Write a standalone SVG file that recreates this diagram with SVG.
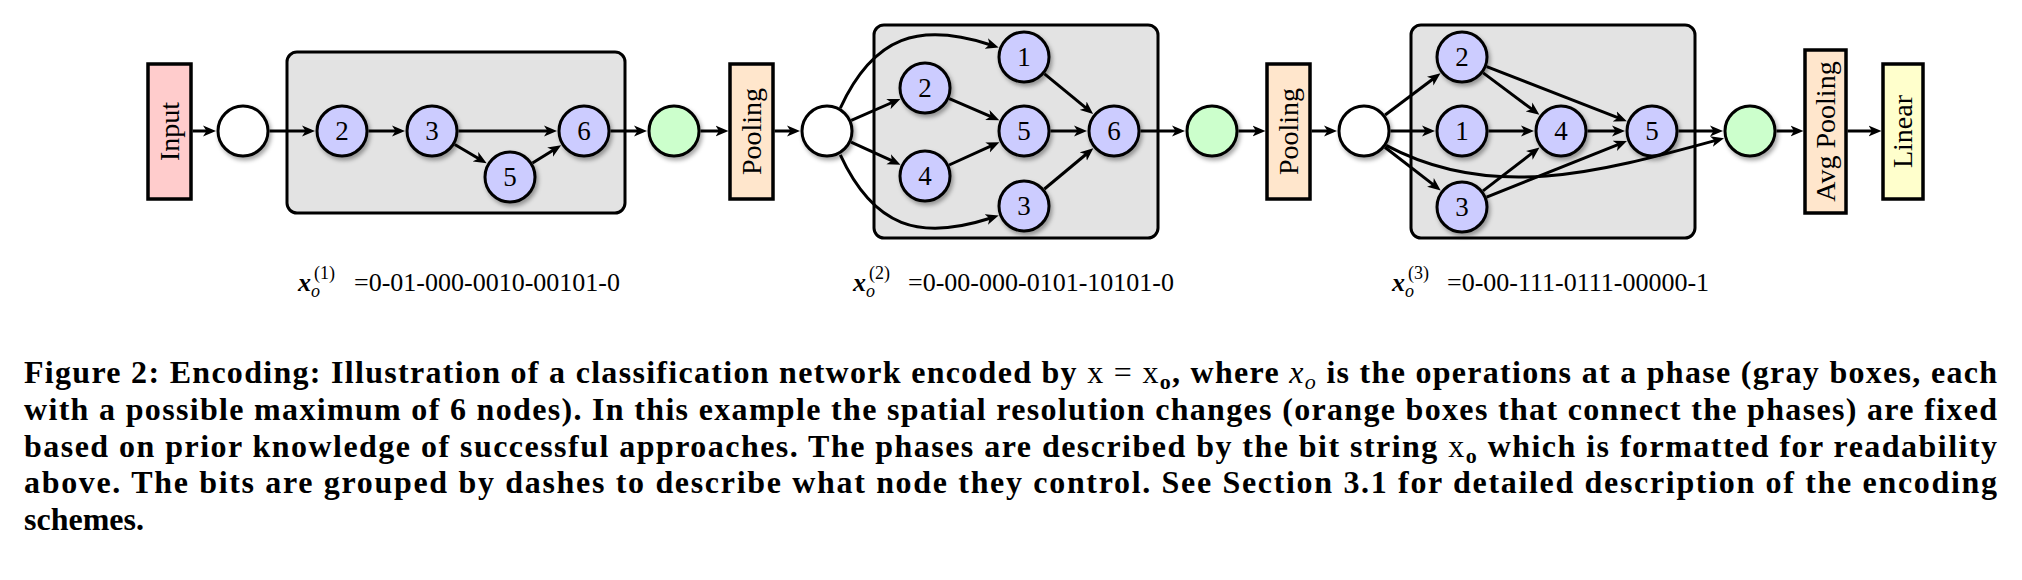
<svg xmlns="http://www.w3.org/2000/svg" width="2022" height="580" viewBox="0 0 2022 580">
<style>
.bg{fill:#ffffff}
.phase{fill:#e3e3e3;stroke:#000;stroke-width:3}
.box{stroke:#000;stroke-width:3.5}
.inp{fill:#ffcccc}
.pool{fill:#ffe6cc}
.lin{fill:#ffffcc}
.n{fill:#ccccff;stroke:#000;stroke-width:3;filter:url(#sh)}
.w{fill:#ffffff;stroke:#000;stroke-width:3;filter:url(#sh)}
.g{fill:#ccffcc;stroke:#000;stroke-width:3;filter:url(#sh)}
text{font-family:'Liberation Serif','Times New Roman',Times,serif}
.lbl{font-size:27px;fill:#000;text-anchor:middle}
.rl{font-size:28px;fill:#000;text-anchor:middle}
.e{fill:none;stroke:#000;stroke-width:3;marker-end:url(#arr)}
.f{font-size:26px;fill:#000}
.fs{font-size:18px;fill:#000}
.cap{font-size:32px;font-weight:bold;fill:#000}
</style>
<defs>
<marker id="arr" viewBox="0 -6 14 12" markerWidth="14" markerHeight="12" refX="4" refY="0" orient="auto" markerUnits="userSpaceOnUse">
<path d="M0,-5.5 L13,0 L0,5.5 L3.5,0 Z" fill="#000"/>
</marker>
<filter id="sh" x="-30%" y="-30%" width="170%" height="170%">
<feDropShadow dx="2" dy="3" stdDeviation="2" flood-color="#000" flood-opacity="0.35"/>
</filter>
</defs>
<rect class="bg" x="0" y="0" width="2022" height="580"/>

<g id="phase1"><rect class="phase" x="287" y="52" width="338" height="161" rx="10"/></g>
<g id="phase2"><rect class="phase" x="874" y="25" width="284" height="213" rx="10"/></g>
<g id="phase3"><rect class="phase" x="1411" y="25" width="284" height="213" rx="10"/></g>

<g id="connectors">
<line class="e" x1="192.5" y1="131" x2="207" y2="131"/>
<line class="e" x1="269.5" y1="131" x2="306" y2="131"/>
<line class="e" x1="368.5" y1="131" x2="396" y2="131"/>
<line class="e" x1="458.5" y1="131" x2="548" y2="131"/>
<line class="e" x1="454.8" y1="144.5" x2="478.9" y2="158.7"/>
<line class="e" x1="532.5" y1="163" x2="553.5" y2="150"/>
<line class="e" x1="610.5" y1="131" x2="638" y2="131"/>
<line class="e" x1="700.5" y1="131" x2="719.5" y2="131"/>
<line class="e" x1="774.5" y1="131" x2="791" y2="131"/>

<line class="e" x1="851.3" y1="120.3" x2="892.1" y2="102.5"/>
<line class="e" x1="851.1" y1="142.1" x2="892.3" y2="160.9"/>
<path class="e" d="M840.3,108.1 C873.9,35.6 919.6,22 990.1,44.7"/>
<path class="e" d="M840.3,154.9 C873.9,227.4 919.6,241 990.1,218.3"/>
<line class="e" x1="949.3" y1="98.6" x2="991" y2="116.6"/>
<line class="e" x1="949.1" y1="165" x2="991.2" y2="145.9"/>
<line class="e" x1="1044.5" y1="73.8" x2="1086.2" y2="108.2"/>
<line class="e" x1="1044.4" y1="189" x2="1086.4" y2="154"/>
<line class="e" x1="1050.5" y1="131" x2="1078" y2="131"/>
<line class="e" x1="1140.5" y1="131" x2="1176" y2="131"/>
<line class="e" x1="1238.5" y1="131" x2="1256.5" y2="131"/>
<line class="e" x1="1311.5" y1="131" x2="1328" y2="131"/>

<line class="e" x1="1385.1" y1="115" x2="1433.3" y2="78.7"/>
<line class="e" x1="1390.5" y1="131" x2="1426" y2="131"/>
<line class="e" x1="1384.9" y1="147.2" x2="1433.6" y2="184.9"/>
<path class="e" d="M1386.2,145.4 C1491.8,201.8 1599.5,172.1 1715.3,140.5"/>
<line class="e" x1="1483.2" y1="72.9" x2="1532.2" y2="109.4"/>
<line class="e" x1="1486.7" y1="66.6" x2="1618.4" y2="117.9"/>
<line class="e" x1="1488.5" y1="131" x2="1525" y2="131"/>
<line class="e" x1="1483" y1="190.9" x2="1532.4" y2="152.9"/>
<line class="e" x1="1486.6" y1="197.2" x2="1618.6" y2="144.4"/>
<line class="e" x1="1587.5" y1="131" x2="1616" y2="131"/>
<line class="e" x1="1678.5" y1="131" x2="1714" y2="131"/>
<line class="e" x1="1776.5" y1="131" x2="1794.5" y2="131"/>
<line class="e" x1="1847.5" y1="131" x2="1872.5" y2="131"/>
</g>

<g id="input"><rect class="box inp" x="148" y="64" width="43" height="135"/><text class="rl" transform="translate(169.5,131.5) rotate(-90)" dy="9">Input</text></g>
<g id="w1"><circle class="w" cx="243" cy="131" r="25"/></g>
<g id="p1n2"><circle class="n" cx="342" cy="131" r="25"/><text class="lbl" x="342" y="140">2</text></g>
<g id="p1n3"><circle class="n" cx="432" cy="131" r="25"/><text class="lbl" x="432" y="140">3</text></g>
<g id="p1n5"><circle class="n" cx="510" cy="177" r="25"/><text class="lbl" x="510" y="186">5</text></g>
<g id="p1n6"><circle class="n" cx="584" cy="131" r="25"/><text class="lbl" x="584" y="140">6</text></g>
<g id="g1"><circle class="g" cx="674" cy="131" r="25"/></g>
<g id="pool1"><rect class="box pool" x="730" y="64" width="43" height="135"/><text class="rl" transform="translate(751.5,131.5) rotate(-90)" dy="9">Pooling</text></g>

<g id="w2"><circle class="w" cx="827" cy="131" r="25"/></g>
<g id="p2n1"><circle class="n" cx="1024" cy="57" r="25"/><text class="lbl" x="1024" y="66">1</text></g>
<g id="p2n2"><circle class="n" cx="925" cy="88" r="25"/><text class="lbl" x="925" y="97">2</text></g>
<g id="p2n4"><circle class="n" cx="925" cy="176" r="25"/><text class="lbl" x="925" y="185">4</text></g>
<g id="p2n5"><circle class="n" cx="1024" cy="131" r="25"/><text class="lbl" x="1024" y="140">5</text></g>
<g id="p2n3"><circle class="n" cx="1024" cy="206" r="25"/><text class="lbl" x="1024" y="215">3</text></g>
<g id="p2n6"><circle class="n" cx="1114" cy="131" r="25"/><text class="lbl" x="1114" y="140">6</text></g>
<g id="g2"><circle class="g" cx="1212" cy="131" r="25"/></g>
<g id="pool2"><rect class="box pool" x="1267" y="64" width="43" height="135"/><text class="rl" transform="translate(1288.5,131.5) rotate(-90)" dy="9">Pooling</text></g>

<g id="w3"><circle class="w" cx="1364" cy="131" r="25"/></g>
<g id="p3n2"><circle class="n" cx="1462" cy="57" r="25"/><text class="lbl" x="1462" y="66">2</text></g>
<g id="p3n1"><circle class="n" cx="1462" cy="131" r="25"/><text class="lbl" x="1462" y="140">1</text></g>
<g id="p3n3"><circle class="n" cx="1462" cy="207" r="25"/><text class="lbl" x="1462" y="216">3</text></g>
<g id="p3n4"><circle class="n" cx="1561" cy="131" r="25"/><text class="lbl" x="1561" y="140">4</text></g>
<g id="p3n5"><circle class="n" cx="1652" cy="131" r="25"/><text class="lbl" x="1652" y="140">5</text></g>
<g id="g3"><circle class="g" cx="1750" cy="131" r="25"/></g>
<g id="avgpool"><rect class="box pool" x="1805" y="50" width="41" height="163"/><text class="rl" transform="translate(1825.5,131.5) rotate(-90)" dy="9">Avg Pooling</text></g>
<g id="linear"><rect class="box lin" x="1883" y="64" width="40" height="135"/><text class="rl" transform="translate(1903,131.5) rotate(-90)" dy="9">Linear</text></g>

<g id="enc1">
<text class="f" x="298" y="291" font-weight="bold" font-style="italic">x</text>
<text class="fs" x="311" y="297" font-style="italic">o</text>
<text class="fs" x="314" y="279">(1)</text>
<text class="f" x="354" y="291">=0-01-000-0010-00101-0</text>
</g>
<g id="enc2">
<text class="f" x="853" y="291" font-weight="bold" font-style="italic">x</text>
<text class="fs" x="866" y="297" font-style="italic">o</text>
<text class="fs" x="869" y="279">(2)</text>
<text class="f" x="908" y="291">=0-00-000-0101-10101-0</text>
</g>
<g id="enc3">
<text class="f" x="1392" y="291" font-weight="bold" font-style="italic">x</text>
<text class="fs" x="1405" y="297" font-style="italic">o</text>
<text class="fs" x="1408" y="279">(3)</text>
<text class="f" x="1447" y="291">=0-00-111-0111-00000-1</text>
</g>

<g id="caption">
<text class="cap" x="24" y="383" textLength="1973" lengthAdjust="spacing">Figure 2: Encoding: Illustration of a classification network encoded by <tspan font-weight="normal">x = x</tspan><tspan font-size="22" dy="6">o</tspan><tspan dy="-6">, where </tspan><tspan font-style="italic" font-weight="normal">x</tspan><tspan font-style="italic" font-weight="normal" font-size="22" dy="6">o</tspan><tspan dy="-6"> is the operations at a phase (gray boxes, each</tspan></text>
<text class="cap" x="24" y="420" textLength="1973" lengthAdjust="spacing">with a possible maximum of 6 nodes). In this example the spatial resolution changes (orange boxes that connect the phases) are fixed</text>
<text class="cap" x="24" y="457" textLength="1973" lengthAdjust="spacing">based on prior knowledge of successful approaches. The phases are described by the bit string <tspan font-weight="normal">x</tspan><tspan font-size="22" dy="6">o</tspan><tspan dy="-6"> which is formatted for readability</tspan></text>
<text class="cap" x="24" y="493" textLength="1973" lengthAdjust="spacing">above. The bits are grouped by dashes to describe what node they control. See Section 3.1 for detailed description of the encoding</text>
<text class="cap" x="24" y="530">schemes.</text>
</g>
</svg>
